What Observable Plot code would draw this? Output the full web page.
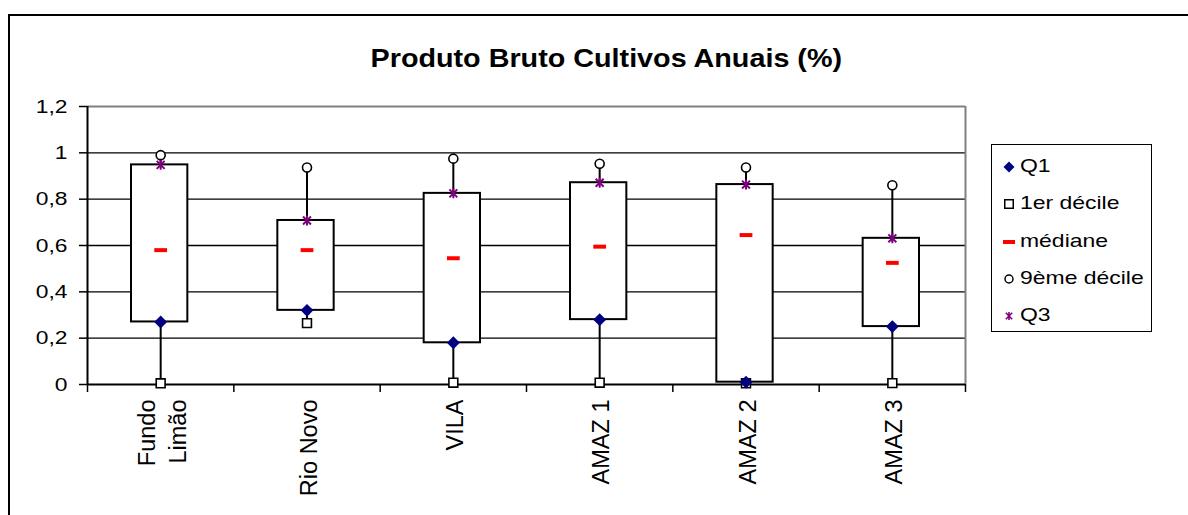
<!DOCTYPE html>
<html><head><meta charset="utf-8">
<script src="https://cdn.jsdelivr.net/npm/d3@7"></script>
<script src="https://cdn.jsdelivr.net/npm/@observablehq/plot@0.6"></script>
<style>
body{margin:0;background:#fff;}
#wrap{position:relative;width:1188px;height:515px;overflow:hidden;background:#fff;font-family:"Liberation Sans",Arial,sans-serif;color:#000;}
#frame{position:absolute;left:8px;top:14px;width:1200px;height:520px;border-left:2px solid #000;border-top:2px solid #000;box-sizing:border-box;}
#title{position:absolute;left:0;width:1212px;top:45px;text-align:center;font-weight:bold;font-size:26px;line-height:26px;white-space:nowrap;}
#title span{display:inline-block;transform-origin:center;}
#chart{position:absolute;left:0;top:0;}
#legend{position:absolute;left:991px;top:144px;width:161px;height:188px;border:1.5px solid #000;box-sizing:border-box;background:#fff;}
.row{position:absolute;left:0;height:30px;width:200px;}
.row svg{position:absolute;left:9px;top:8px;}
.row span{position:absolute;left:28px;top:4px;font-size:18.5px;line-height:22px;white-space:nowrap;transform:scaleX(1.24);transform-origin:left center;}
</style>
</head><body>
<div id="wrap">
  <div id="frame"></div>
  <div id="chart"></div>
  <div id="title"><span>Produto Bruto Cultivos Anuais (%)</span></div>
  <div id="legend"></div>
</div>
<script>
// ---- data ----
const categories = ["Fundo\nLimão", "Rio Novo", "VILA", "AMAZ 1", "AMAZ 2", "AMAZ 3"];
const q1      = [0.27, 0.32, 0.18, 0.28, 0.01, 0.25];
const decile1 = [0.005, 0.265, 0.008, 0.008, 0.005, 0.006];
const median  = [0.58, 0.58, 0.545, 0.595, 0.645, 0.525];
const decile9 = [0.99, 0.937, 0.975, 0.953, 0.937, 0.86];
const q3      = [0.948, 0.708, 0.825, 0.871, 0.863, 0.631];
const yTicks = [0, 0.2, 0.4, 0.6, 0.8, 1, 1.2];
const yTickLabels = ["0", "0,2", "0,4", "0,6", "0,8", "1", "1,2"];
const gridValues = [0.2, 0.4, 0.6, 0.8, 1];
const legendLabels = ["Q1", "1er décile", "médiane", "9ème décile", "Q3"];

const rows = categories.map((c, i) => ({
  cat: c, i, q1: q1[i], d1: decile1[i], med: median[i], d9: decile9[i], q3: q3[i]
}));

const NAVY = "#000080", PURPLE = "#800080", RED = "#ff0000";

const dashSym = {draw(ctx, size) { const s = Math.sqrt(size); const w = s * 0.9, h = s * 0.28; ctx.rect(-w, -h, 2 * w, 2 * h); }};
const starSym = {draw(ctx, size) { const h = Math.sqrt(size) * 0.56; const k = h * 0.8;
  ctx.moveTo(0, -h); ctx.lineTo(0, h);
  ctx.moveTo(-k, -k); ctx.lineTo(k, k);
  ctx.moveTo(-k, k); ctx.lineTo(k, -k); }};

const cx = d => d.i + 0.5;

const chart = Plot.plot({
  width: 1188,
  height: 515,
  marginLeft: 87,
  marginRight: 223,
  marginTop: 106,
  marginBottom: 131,
  style: {fontFamily: "'Liberation Sans', Arial, sans-serif", background: "none", color: "#000"},
  x: {type: "linear", domain: [0, categories.length], axis: null},
  y: {domain: [0, 1.2], axis: null},
  marks: [
    Plot.ruleY(gridValues, {stroke: "#000", strokeWidth: 1.4}),
    Plot.ruleY([1.2], {stroke: "#808080", strokeWidth: 2}),
    Plot.ruleX([categories.length], {stroke: "#808080", strokeWidth: 2}),
    Plot.ruleX(rows, {x: cx, y1: "d1", y2: "d9", stroke: "#000", strokeWidth: 2}),
    Plot.rect(rows, {x1: d => d.i, x2: d => d.i + 1, insetLeft: 44, insetRight: 46, y1: "q1", y2: "q3", fill: "#fff", stroke: "#000", strokeWidth: 2}),
    Plot.ruleX([0], {stroke: "#000", strokeWidth: 2}),
    Plot.ruleY([0], {stroke: "#000", strokeWidth: 2}),
    Plot.axisY({ticks: yTicks, tickSize: 8, tickPadding: 12, tickFormat: d => yTickLabels[yTicks.indexOf(d)], fontSize: 19, stroke: "#000", strokeWidth: 1.5, label: null}),
    Plot.axisX({ticks: d3.range(categories.length + 1), tickSize: 8, tickFormat: () => "", stroke: "#000", strokeWidth: 1.5, label: null}),
    Plot.axisX(categories.map((c, i) => i + 0.5), {tickSize: 0, tickPadding: 15, tickRotate: -90, tickFormat: d => categories[Math.floor(d)], fontSize: 23.5, lineHeight: 1.3, label: null}),
    Plot.dot(rows, {x: cx, y: "d1", symbol: "square", r: 5, fill: "#fff", stroke: "#000", strokeWidth: 1.6}),
    Plot.dot(rows, {x: cx, y: "d9", symbol: "circle", r: 4.5, fill: "#fff", stroke: "#000", strokeWidth: 1.6}),
    Plot.dot(rows, {x: cx, y: "med", symbol: dashSym, r: 4, fill: RED, stroke: "none"}),
    Plot.dot(rows, {x: cx, y: "q3", symbol: starSym, r: 5, fill: "none", stroke: PURPLE, strokeWidth: 2}),
    Plot.dot(rows, {x: cx, y: "q1", symbol: "diamond2", r: 5.8, fill: NAVY, stroke: "none"})
  ]
});
document.getElementById("chart").appendChild(chart);

// Stretch horizontal y tick labels (reference text is horizontally wide)
chart.querySelectorAll('g[aria-label="y-axis tick label"] text').forEach(t => {
  const L = t.getComputedTextLength();
  t.setAttribute("textLength", L * 1.2);
  t.setAttribute("lengthAdjust", "spacingAndGlyphs");
});

// Title width
const ts = document.querySelector("#title span");
ts.style.transform = `scaleX(${472 / ts.offsetWidth})`;

// Legend
const legendMarkers = [
  `<svg width="16" height="16"><path d="M8,2.5L13.5,8L8,13.5L2.5,8Z" fill="${NAVY}"/></svg>`,
  `<svg width="16" height="16"><rect x="3.75" y="3.75" width="8.5" height="8.5" fill="#fff" stroke="#000" stroke-width="1.5"/></svg>`,
  `<svg width="16" height="16"><rect x="2" y="6" width="12" height="4" fill="${RED}"/></svg>`,
  `<svg width="16" height="16"><circle cx="8" cy="8" r="4" fill="#fff" stroke="#000" stroke-width="1.5"/></svg>`,
  `<svg width="16" height="16"><path d="M8,4V12M4.8,4.8L11.2,11.2M4.8,11.2L11.2,4.8" stroke="${PURPLE}" stroke-width="1.6" fill="none"/></svg>`
];
const rowCenters = [22, 59, 97, 134, 171];
const lg = document.getElementById("legend");
legendLabels.forEach((lab, k) => {
  const r = document.createElement("div");
  r.className = "row";
  r.style.top = (rowCenters[k] - 16) + "px";
  r.innerHTML = legendMarkers[k] + `<span>${lab}</span>`;
  lg.appendChild(r);
});
</script>
</body></html>
